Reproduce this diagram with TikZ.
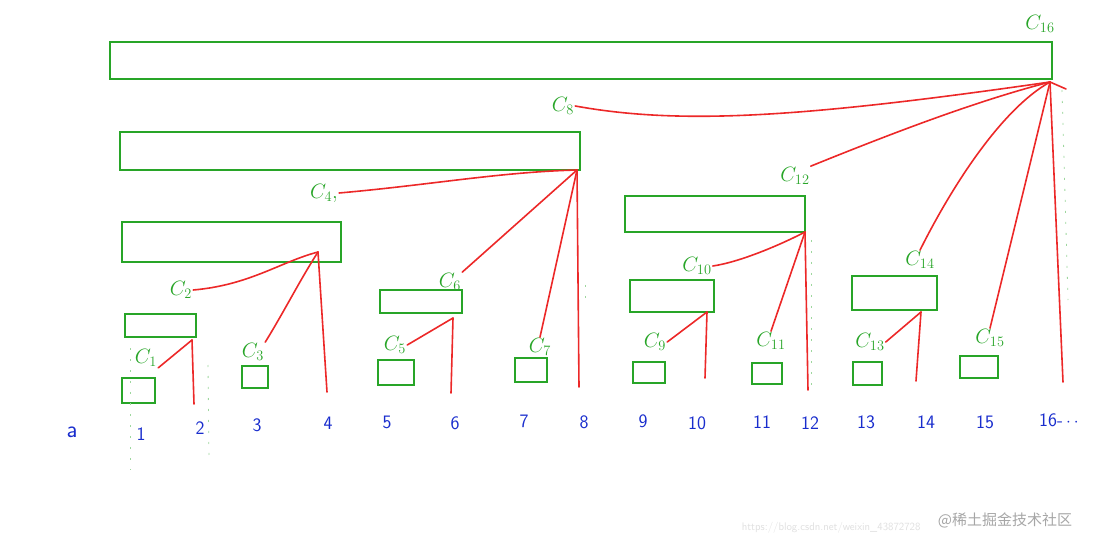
\documentclass[tikz,border=0pt]{standalone}
\usepackage{fontspec}
\newfontfamily\cjk{Noto Sans CJK SC}
\definecolor{pengreen}{RGB}{40,165,40}
\definecolor{penred}{RGB}{236,40,40}
\definecolor{penblue}{RGB}{25,45,205}
\begin{document}
\begin{tikzpicture}[x=1pt,y=-1pt,
  box/.style={draw=pengreen, line width=1.9pt, inner sep=0pt},
  lab/.style={text=pengreen, font=\fontsize{20}{24}\selectfont, inner sep=1pt},
  link/.style={draw=penred, line width=1.6pt, line cap=round},
  num/.style={text=penblue, font=\sffamily\fontsize{19}{22}\selectfont, inner sep=1pt},
  faint/.style={draw=pengreen!45, line width=0.8pt, dash pattern=on 2pt off 9pt}]
\useasboundingbox (0,0) rectangle (1101,548);
% boxes
\node[box, minimum width=942pt, minimum height=37pt] (b16) at (581,60.5) {};
\node[box, minimum width=460pt, minimum height=38pt] (b8) at (350,151) {};
\node[box, minimum width=219pt, minimum height=40pt] (b4) at (231.5,242) {};
\node[box, minimum width=71pt, minimum height=23pt] (b2) at (160.5,325.5) {};
\node[box, minimum width=33pt, minimum height=25pt] (b1) at (138.5,390.5) {};
\node[box, minimum width=26pt, minimum height=22pt] (b3) at (255,377) {};
\node[box, minimum width=82pt, minimum height=23pt] (b6) at (421,301.5) {};
\node[box, minimum width=36pt, minimum height=25pt] (b5) at (396,372.5) {};
\node[box, minimum width=32pt, minimum height=24pt] (b7) at (531,370) {};
\node[box, minimum width=180pt, minimum height=36pt] (b12) at (715,214) {};
\node[box, minimum width=84pt, minimum height=32pt] (b10) at (672,296) {};
\node[box, minimum width=32pt, minimum height=21pt] (b9) at (649,372.5) {};
\node[box, minimum width=30pt, minimum height=21pt] (b11) at (767,373.5) {};
\node[box, minimum width=85pt, minimum height=34pt] (b14) at (894.5,293) {};
\node[box, minimum width=29pt, minimum height=23pt] (b13) at (867.5,373.5) {};
\node[box, minimum width=38pt, minimum height=22pt] (b15) at (979,367) {};
% labels
\node[lab] (l16) at (1040,24) {$C_{16}$};
\node[lab] (l8) at (563,106) {$C_{8}$};
\node[lab] (l4) at (324,193) {$C_{4},$};
\node[lab] (l2) at (181,290) {$C_{2}$};
\node[lab] (l1) at (146,358) {$C_{1}$};
\node[lab] (l3) at (253,352) {$C_{3}$};
\node[lab] (l6) at (450,282) {$C_{6}$};
\node[lab] (l5) at (395,345) {$C_{5}$};
\node[lab] (l7) at (540,347) {$C_{7}$};
\node[lab] (l12) at (795,176) {$C_{12}$};
\node[lab] (l10) at (697,266) {$C_{10}$};
\node[lab] (l9) at (655,342) {$C_{9}$};
\node[lab] (l11) at (771,341) {$C_{11}$};
\node[lab] (l14) at (920,260) {$C_{14}$};
\node[lab] (l13) at (870,342) {$C_{13}$};
\node[lab] (l15) at (990,338) {$C_{15}$};
% apex points and free ends
\coordinate (a16) at (1050,82);
\coordinate (a8) at (577,170);
\coordinate (a4) at (318,252);
\coordinate (a2) at (192,340);
\coordinate (a6) at (453,318);
\coordinate (a12) at (805,232);
\coordinate (a10) at (707,312);
\coordinate (a14) at (921,312);
\coordinate (e16) at (1063,382);
\coordinate (e8) at (579,387);
\coordinate (e4) at (327,392);
\coordinate (e2) at (194,404);
\coordinate (e6) at (451,393);
\coordinate (e12) at (808,390);
\coordinate (e10) at (705,378);
\coordinate (e14) at (916,381);
\coordinate (x16) at (1066,89);
% red connectors
\draw[link] (l8.east) .. controls (680,125) and (800,118) .. (a16);
\draw[link] (l12.north east) .. controls (900,130) and (980,100) .. (a16);
\draw[link] (l14.north) .. controls (950,190) and (1000,110) .. (a16);
\draw[link] (l15.north) -- (a16);
\draw[link] (a16) -- (e16);
\draw[link] (a16) -- (x16);
\draw[link] (l4.east) .. controls (430,185) and (500,172) .. (a8);
\draw[link] (l6.north east) -- (a8);
\draw[link] (l7.north) -- (a8);
\draw[link] (a8) -- (e8);
\draw[link] (l2.east) .. controls (250,285) and (280,262) .. (a4);
\draw[link] (l3.north east) .. controls (285,310) and (300,280) .. (a4);
\draw[link] (a4) -- (e4);
\draw[link] (l1.south east) -- (a2);
\draw[link] (a2) -- (e2);
\draw[link] (l5.east) -- (a6);
\draw[link] (a6) -- (e6);
\draw[link] (l10.east) .. controls (740,262) and (780,245) .. (a12);
\draw[link] (l11.north) -- (a12);
\draw[link] (a12) -- (e12);
\draw[link] (l9.east) -- (a10);
\draw[link] (a10) -- (e10);
\draw[link] (l13.east) -- (a14);
\draw[link] (a14) -- (e14);
% indices
\node[num, font=\sffamily\fontsize{24}{28}\selectfont] (na) at (72,432) {a};
\node[num] (n1) at (141,434) {1};
\node[num] (n2) at (200,428) {2};
\node[num] (n3) at (257,425) {3};
\node[num] (n4) at (328,423) {4};
\node[num] (n5) at (387,422) {5};
\node[num] (n6) at (455,423) {6};
\node[num] (n7) at (524,421) {7};
\node[num] (n8) at (584,422) {8};
\node[num] (n9) at (643,421) {9};
\node[num] (n10) at (697,423) {10};
\node[num] (n11) at (762,422) {11};
\node[num] (n12) at (810,423) {12};
\node[num] (n13) at (866,422) {13};
\node[num] (n14) at (926,422) {14};
\node[num] (n15) at (985,422) {15};
\node[num, anchor=west] (n16) at (1038,420) {16-\,$\cdot\,\cdot$};
% faint guide marks
\draw[faint] (130,348) -- (130,470);
\draw[faint] (208,365) -- (209,460);
\draw[faint] (585,285) -- (585,300);
\draw[faint] (811,240) -- (811,385);
\draw[faint] (1062,90) -- (1068,300);
% watermark
\node[text=gray!25, font=\sffamily\fontsize{11}{13}\selectfont, anchor=east] (url) at (924,528) {https://blog.csdn.net/weixin\_43872728};
\node[text=gray!70, font=\cjk\fontsize{15}{18}\selectfont] (wm) at (1005,520) {@稀土掘金技术社区};
\end{tikzpicture}
\end{document}
